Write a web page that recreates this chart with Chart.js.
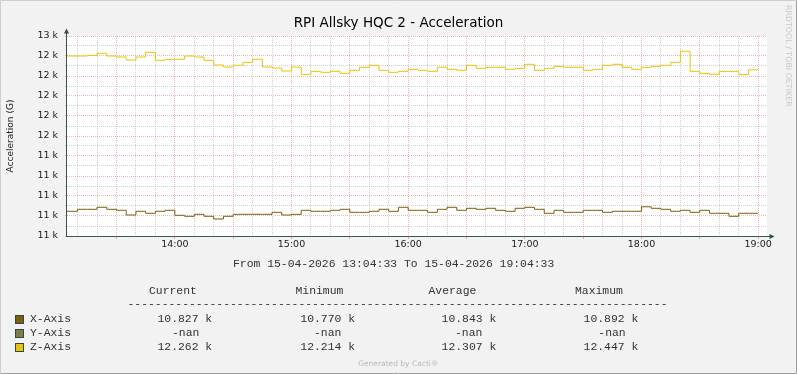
<!DOCTYPE html>
<html>
<head>
<meta charset="utf-8">
<style>
  html, body { margin: 0; padding: 0; background: #f2f2f2; }
  #graph { display: block; }
</style>
<script src="https://cdn.jsdelivr.net/npm/chart.js@4.4.1/dist/chart.umd.min.js"></script>
</head>
<body>
<canvas id="graph" width="797" height="374"></canvas>
<script>
// minutes after 13:00, one sample every 5 min (the last one only closes the step)
const minutes = [
  0, 5, 10, 15, 20, 25, 30, 35, 40, 45, 50, 55,
  60, 65, 70, 75, 80, 85, 90, 95, 100, 105, 110, 115,
  120, 125, 130, 135, 140, 145, 150, 155, 160, 165, 170, 175,
  180, 185, 190, 195, 200, 205, 210, 215, 220, 225, 230, 235,
  240, 245, 250, 255, 260, 265, 270, 275, 280, 285, 290, 295,
  300, 305, 310, 315, 320, 325, 330, 335, 340, 345, 350, 355,
  360
];

// values in thousands (k)
const xAxisValues = [
  10.847, 10.847, 10.867, 10.867, 10.887, 10.867, 10.857, 10.810, 10.847, 10.827, 10.847, 10.857,
  10.807, 10.797, 10.817, 10.797, 10.770, 10.797, 10.817, 10.817, 10.817, 10.817, 10.837, 10.810,
  10.817, 10.857, 10.847, 10.847, 10.857, 10.867, 10.837, 10.837, 10.847, 10.867, 10.847, 10.887,
  10.857, 10.857, 10.837, 10.867, 10.887, 10.857, 10.877, 10.867, 10.877, 10.857, 10.847, 10.877,
  10.887, 10.867, 10.827, 10.857, 10.837, 10.837, 10.857, 10.857, 10.837, 10.847, 10.847, 10.847,
  10.892, 10.877, 10.867, 10.847, 10.857, 10.837, 10.857, 10.827, 10.827, 10.797, 10.827, 10.827,
  10.827
];
const yAxisValues = []; // -nan, nothing recorded
const zAxisValues = [
  12.400, 12.400, 12.400, 12.407, 12.427, 12.400, 12.390, 12.360, 12.390, 12.437, 12.357, 12.367,
  12.367, 12.400, 12.390, 12.357, 12.310, 12.290, 12.307, 12.337, 12.367, 12.290, 12.280, 12.250,
  12.290, 12.216, 12.247, 12.237, 12.247, 12.227, 12.257, 12.287, 12.307, 12.257, 12.237, 12.247,
  12.267, 12.257, 12.247, 12.287, 12.267, 12.257, 12.307, 12.277, 12.287, 12.287, 12.267, 12.277,
  12.317, 12.257, 12.277, 12.297, 12.287, 12.287, 12.257, 12.267, 12.307, 12.317, 12.287, 12.267,
  12.287, 12.297, 12.307, 12.337, 12.447, 12.247, 12.227, 12.217, 12.247, 12.247, 12.214, 12.262,
  12.262
];

const seriesNames = ["X-Axis", "Y-Axis", "Z-Axis"];
const seriesColors = ["#7d5e0e", "#817c4e", "#eac40a"];
const legendHeaders = ["Current", "Minimum", "Average", "Maximum"];
const legendRows = [
  ["10.827 k", "10.770 k", "10.843 k", "10.892 k"],
  ["-nan", "-nan", "-nan", "-nan"],
  ["12.262 k", "12.214 k", "12.307 k", "12.447 k"]
];
const gridMinutes = [
  10, 20, 30, 40, 50, 60, 70, 80, 90, 100, 110, 120,
  130, 140, 150, 160, 170, 180, 190, 200, 210, 220, 230, 240,
  250, 260, 270, 280, 290, 300, 310, 320, 330, 340, 350, 360
];

const GRID = "rgba(143,143,143,0.42)";
const MGRID = "rgba(222,80,80,0.42)";
const AXIS = "#3a574f";
const ARROW = "#2c4d43";
const MONO = '11.4px "Liberation Mono"';

const toPoints = (vals) => vals.map((v, i) => ({ x: minutes[i], y: v }));

const rrdFrame = {
  id: "rrdFrame",
  beforeDraw(chart) {
    const { ctx, chartArea: a } = chart;
    ctx.save();
    ctx.fillStyle = "#f2f2f2";
    ctx.fillRect(0, 0, 797, 374);
    // shade A / shade B border
    ctx.strokeStyle = "#cfcfcf";
    ctx.beginPath();
    ctx.moveTo(0.5, 373); ctx.lineTo(0.5, 0.5); ctx.lineTo(796, 0.5);
    ctx.stroke();
    ctx.strokeStyle = "#9e9e9e";
    ctx.beginPath();
    ctx.moveTo(796.5, 0.5); ctx.lineTo(796.5, 373.5); ctx.lineTo(0.5, 373.5);
    ctx.stroke();
    ctx.fillStyle = "#ffffff";
    ctx.fillRect(a.left, a.top, a.right - a.left, a.bottom - a.top);
    ctx.restore();
  },
  afterDraw(chart) {
    const { ctx, chartArea: a } = chart;
    ctx.save();
    // axes
    ctx.strokeStyle = AXIS;
    ctx.lineWidth = 1;
    ctx.beginPath();
    ctx.moveTo(a.left - 0.5, a.bottom + 0.5);
    ctx.lineTo(a.left - 0.5, a.top - 3);
    ctx.moveTo(a.left - 1, a.bottom + 0.5);
    ctx.lineTo(a.right + 3, a.bottom + 0.5);
    ctx.stroke();
    ctx.fillStyle = ARROW;
    ctx.beginPath();
    ctx.moveTo(a.left - 0.5, a.top - 7.5);
    ctx.lineTo(a.left - 3, a.top - 2.5);
    ctx.lineTo(a.left + 2, a.top - 2.5);
    ctx.closePath();
    ctx.fill();
    ctx.beginPath();
    ctx.moveTo(a.right + 7.5, a.bottom + 0.5);
    ctx.lineTo(a.right + 2.5, a.bottom - 2);
    ctx.lineTo(a.right + 2.5, a.bottom + 3);
    ctx.closePath();
    ctx.fill();

    // title
    ctx.fillStyle = "#000";
    ctx.font = '13.5px "DejaVu Sans"';
    ctx.textAlign = "center";
    ctx.textBaseline = "alphabetic";
    ctx.fillText("RPI Allsky HQC 2 - Acceleration", 398.5, 26.5);

    // watermark
    ctx.save();
    ctx.translate(788.5, 5);
    ctx.rotate(Math.PI / 2);
    ctx.fillStyle = "#c8c8c8";
    ctx.font = '7.9px "DejaVu Sans"';
    ctx.textAlign = "left";
    ctx.textBaseline = "middle";
    ctx.fillText("RRDTOOL / TOBI OETIKER", 0, 0);
    ctx.restore();

    // legend
    ctx.font = MONO;
    ctx.fillStyle = "#333333";
    ctx.textAlign = "left";
    ctx.textBaseline = "middle";
    ctx.fillText("From 15-04-2026 13:04:33 To 15-04-2026 19:04:33", 233, 263.5);
    const headX = [149, 295.5, 428.5, 575];
    legendHeaders.forEach((h, i) => ctx.fillText(h, headX[i], 291));
    ctx.fillText("-".repeat(79), 127.5, 303.5);

    const numX = [157.5, 300.3, 441.6, 583.6];
    const nanX = [172, 314, 455, 598.3];
    seriesNames.forEach((name, r) => {
      const yMid = 319 + r * 14;
      ctx.fillStyle = seriesColors[r];
      ctx.fillRect(15, yMid - 4, 9, 9);
      ctx.strokeStyle = "#2c4d43";
      ctx.strokeRect(15.5, yMid - 3.5, 8, 8);
      ctx.fillStyle = "#333333";
      ctx.fillText(name, 30, yMid);
      legendRows[r].forEach((v, c) => {
        ctx.fillText(v, v === "-nan" ? nanX[c] : numX[c], yMid);
      });
    });

    ctx.fillStyle = "#b8b8b8";
    ctx.font = '7.5px "DejaVu Sans"';
    ctx.textAlign = "center";
    ctx.fillText("Generated by Cacti\u00ae", 398.3, 364);
    ctx.restore();
  }
};

new Chart(document.getElementById("graph"), {
  type: "line",
  data: {
    datasets: [
      { label: seriesNames[0], data: toPoints(xAxisValues), borderColor: seriesColors[0] },
      { label: seriesNames[1], data: toPoints(yAxisValues), borderColor: seriesColors[1] },
      { label: seriesNames[2], data: toPoints(zAxisValues), borderColor: seriesColors[2] }
    ]
  },
  options: {
    responsive: false,
    animation: false,
    devicePixelRatio: 1,
    layout: { padding: { left: 0, top: 36, right: 30, bottom: 0 } },
    elements: {
      line: { borderWidth: 1, stepped: "before", tension: 0 },
      point: { radius: 0 }
    },
    plugins: { legend: { display: false }, tooltip: { enabled: false } },
    scales: {
      x: {
        type: "linear",
        min: 4.55,
        max: 364.55,
        afterFit: (s) => { s.height = 138; },
        afterBuildTicks: (s) => { s.ticks = gridMinutes.map((v) => ({ value: v })); },
        grid: {
          color: (c) => (c.tick.value % 30 === 0 ? MGRID : GRID),
          tickColor: (c) => (c.tick.value % 30 === 0 ? MGRID : "transparent"),
          tickLength: 3
        },
        border: { display: false, dash: [1, 1] },
        ticks: {
          autoSkip: false,
          maxRotation: 0,
          padding: 0,
          color: "#1a1a1a",
          font: { family: "DejaVu Sans", size: 9.5 },
          callback: (v) => (v % 60 === 0 ? (13 + v / 60) + ":00" : "")
        }
      },
      y: {
        min: 10.6,
        max: 12.6,
        afterFit: (s) => { s.width = 67; },
        grid: {
          color: (c) => (Math.round(c.tick.value * 10) % 2 === 0 ? MGRID : GRID),
          tickColor: (c) => (Math.round(c.tick.value * 10) % 2 === 0 ? MGRID : GRID),
          tickLength: 2
        },
        border: { display: false, dash: [1, 1] },
        title: {
          display: true,
          text: "Acceleration (G)",
          color: "#1a1a1a",
          font: { family: "DejaVu Sans", size: 9 },
          padding: { top: 5.6, bottom: 0 }
        },
        ticks: {
          stepSize: 0.1,
          autoSkip: false,
          padding: 7,
          color: "#1a1a1a",
          font: { family: "DejaVu Sans", size: 9.5 },
          callback: (v) => (Math.round(v * 10) % 2 === 0 ? Math.round(v) + " k" : "")
        }
      }
    }
  },
  plugins: [rrdFrame]
});
</script>
</body>
</html>
